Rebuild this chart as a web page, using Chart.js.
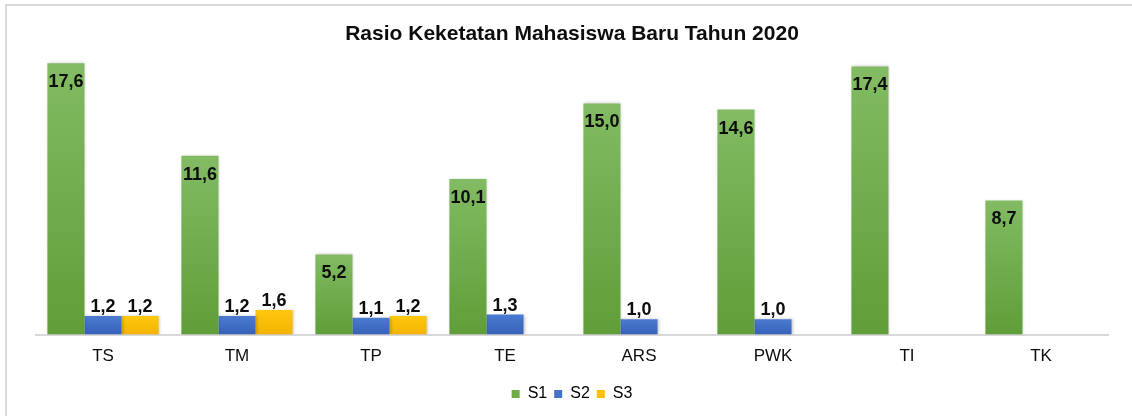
<!DOCTYPE html>
<html>
<head>
<meta charset="utf-8">
<script src="https://cdn.jsdelivr.net/npm/chart.js@4/dist/chart.umd.min.js"></script>
<style>
  html, body { margin: 0; padding: 0; background: #fff; }
  #wrap { position: relative; width: 1132px; height: 416px; overflow: hidden; }
  #frame { position: absolute; left: 5px; top: 4px; width: 1140px; height: 430px;
           border-top: 2px solid #d9d9d9; border-left: 2px solid #d9d9d9; box-sizing: border-box; }
  canvas { position: absolute; left: 0; top: 0; }
</style>
</head>
<body>
<div id="wrap">
  <div id="frame"></div>
  <canvas id="c" width="1132" height="416"></canvas>
</div>
<script>
const categories = ['TS', 'TM', 'TP', 'TE', 'ARS', 'PWK', 'TI', 'TK'];
const seriesNames = ['S1', 'S2', 'S3'];
const s1Values = [17.6, 11.6, 5.2, 10.1, 15.0, 14.6, 17.4, 8.7];
const s2Values = [1.2, 1.2, 1.1, 1.3, 1.0, 1.0, null, null];
const s3Values = [1.2, 1.6, 1.2, null, null, null, null, null];
const chartTitle = 'Rasio Keketatan Mahasiswa Baru Tahun 2020';

const FONT = '"Liberation Sans", Arial, sans-serif';

const palettes = [
  { top: '#82bb63', bottom: '#5f9e38', legend: '#70ad47' },
  { top: '#4b7bd0', bottom: '#3661b8', legend: '#4472c4' },
  { top: '#ffc80f', bottom: '#f2b300', legend: '#ffc000' }
];

function gradFill(idx) {
  return function (context) {
    const chart = context.chart;
    const p = palettes[idx];
    const ys = chart.scales && chart.scales.y;
    const area = chart.chartArea;
    if (!ys || !area || context.raw == null) return p.legend;
    const top = ys.getPixelForValue(context.raw);
    const bottom = ys.getPixelForValue(0);
    if (!isFinite(top) || !isFinite(bottom) || bottom - top < 1) return p.legend;
    const g = chart.ctx.createLinearGradient(0, top, 0, bottom);
    g.addColorStop(0, p.top);
    g.addColorStop(1, p.bottom);
    return g;
  };
}

const labelPlugin = {
  id: 'valueLabels',
  afterDatasetsDraw(chart) {
    const ctx = chart.ctx;
    ctx.save();
    ctx.font = 'bold 18px ' + FONT;
    ctx.fillStyle = '#0d0d0d';
    ctx.textAlign = 'center';
    ctx.textBaseline = 'middle';
    chart.data.datasets.forEach((ds, di) => {
      const meta = chart.getDatasetMeta(di);
      meta.data.forEach((el, i) => {
        const v = ds.data[i];
        if (v == null) return;
        const txt = v.toFixed(1).replace('.', ',');
        const y = di === 0 ? el.y + 19 : el.y - 9;
        ctx.fillText(txt, el.x, y);
      });
    });
    ctx.restore();
  }
};

const shadowPlugin = {
  id: 'barShadow',
  beforeDatasetsDraw(chart) {
    const ctx = chart.ctx;
    ctx.save();
    ctx.shadowColor = 'rgba(0,0,0,0.22)';
    ctx.shadowBlur = 3;
    ctx.shadowOffsetX = 1;
    ctx.shadowOffsetY = 0;
  },
  afterDatasetsDraw(chart) {
    chart.ctx.restore();
  }
};

const seriesValues = [s1Values, s2Values, s3Values];

new Chart(document.getElementById('c'), {
  type: 'bar',
  data: {
    labels: categories,
    datasets: seriesNames.map((name, i) => ({
      label: name,
      data: seriesValues[i],
      backgroundColor: gradFill(i),
      borderWidth: 0,
      categoryPercentage: 0.83,
      barPercentage: 1.0
    }))
  },
  options: {
    responsive: false,
    animation: false,
    events: [],
    layout: { padding: { left: 36, right: 24, top: 0, bottom: 4 } },
    scales: {
      x: {
        grid: { display: false, drawTicks: false },
        border: { display: true, color: '#d9d9d9', width: 2 },
        ticks: { color: '#0d0d0d', font: { family: FONT, size: 17 }, padding: 12 }
      },
      y: {
        display: false,
        min: 0,
        max: 18
      }
    },
    plugins: {
      title: {
        display: true,
        text: chartTitle,
        color: '#0d0d0d',
        font: { family: FONT, size: 21, weight: 'bold' },
        padding: { top: 22, bottom: 10 }
      },
      legend: {
        position: 'bottom',
        labels: {
          color: '#0d0d0d',
          font: { family: FONT, size: 16 },
          boxWidth: 8,
          boxHeight: 8,
          padding: 7,
          generateLabels(chart) {
            return chart.data.datasets.map((ds, i) => ({
              text: ds.label,
              fillStyle: palettes[i].legend,
              strokeStyle: palettes[i].legend,
              lineWidth: 0,
              hidden: false,
              datasetIndex: i
            }));
          }
        }
      },
      tooltip: { enabled: false }
    }
  },
  plugins: [shadowPlugin, labelPlugin]
});
</script>
</body>
</html>
